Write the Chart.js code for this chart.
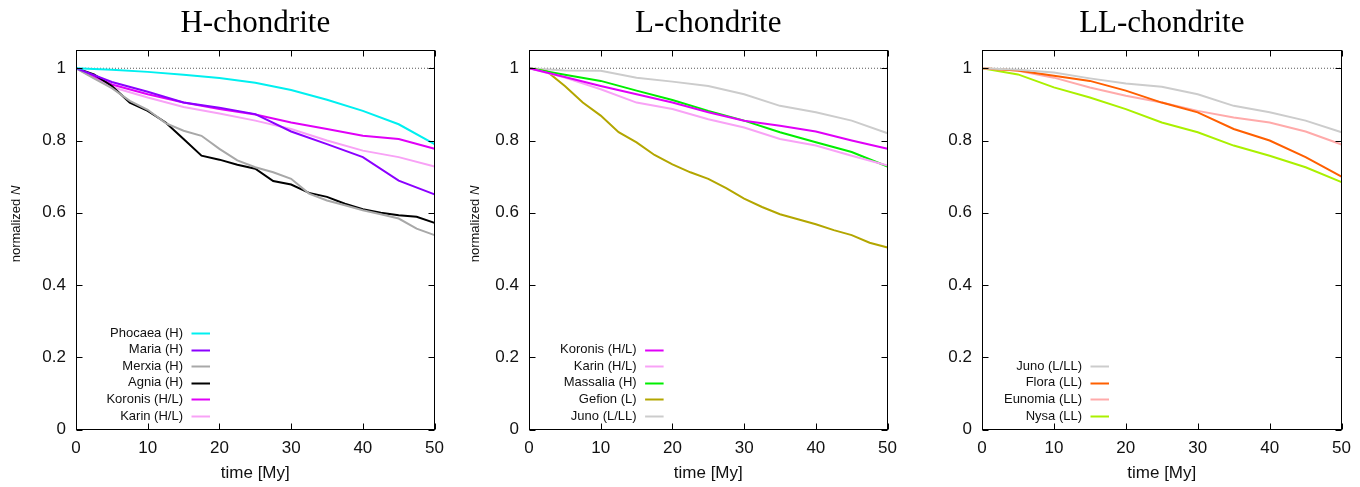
<!DOCTYPE html>
<html>
<head>
<meta charset="utf-8">
<script src="https://cdn.jsdelivr.net/npm/chart.js@4"></script>
<style>
  body { margin: 0; background: #fff; }
  #wrap { position: relative; width: 1360px; height: 487px; }
  canvas { position: absolute; top: 0; }
</style>
</head>
<body>
<div id="wrap">
  <canvas id="chH" width="453" height="487" style="left:0px"></canvas>
  <canvas id="chL" width="453" height="487" style="left:453px"></canvas>
  <canvas id="chLL" width="454" height="487" style="left:906px"></canvas>
</div>
<script>
const SANS = '"Liberation Sans", Arial, sans-serif';

// axes
const xTicks = [0, 10, 20, 30, 40, 50];
const xTickLabels = ['0', '10', '20', '30', '40', '50'];
const yTicks = [0, 0.2, 0.4, 0.6, 0.8, 1];
const yTickLabels = ['0', '0.2', '0.4', '0.6', '0.8', '1'];
const refT = [0, 50];
const refV = [1, 1];

// time grids [My]
const t5 = [0, 5, 10, 15, 20, 25, 30, 35, 40, 45, 50];
const t25 = [0, 2.5, 5, 7.5, 10, 12.5, 15, 17.5, 20, 22.5, 25, 27.5, 30, 32.5, 35, 37.5, 40, 42.5, 45, 47.5, 50];

// H-chondrite panel
const phocaeaH = [1, 0.996, 0.990, 0.982, 0.973, 0.960, 0.940, 0.913, 0.882, 0.845, 0.790];
const mariaH   = [1, 0.962, 0.935, 0.905, 0.891, 0.873, 0.825, 0.790, 0.754, 0.689, 0.651];
const merxiaH  = [1, 0.972, 0.945, 0.910, 0.885, 0.848, 0.827, 0.813, 0.777, 0.745, 0.726, 0.712, 0.694, 0.653, 0.634, 0.621, 0.607, 0.596, 0.584, 0.556, 0.538];
const agniaH   = [1, 0.983, 0.951, 0.905, 0.882, 0.850, 0.804, 0.758, 0.747, 0.733, 0.722, 0.688, 0.678, 0.655, 0.644, 0.625, 0.610, 0.600, 0.593, 0.589, 0.572];
const koronisH = [1, 0.955, 0.928, 0.905, 0.887, 0.872, 0.850, 0.832, 0.813, 0.804, 0.777];
const karinH   = [1, 0.948, 0.919, 0.893, 0.875, 0.855, 0.832, 0.800, 0.772, 0.754, 0.728];

// L-chondrite panel
const koronisL  = [1, 0.976, 0.951, 0.928, 0.905, 0.878, 0.855, 0.841, 0.825, 0.800, 0.777];
const karinL    = [1, 0.974, 0.942, 0.905, 0.887, 0.859, 0.836, 0.804, 0.786, 0.758, 0.731];
const massaliaL = [1, 0.982, 0.965, 0.938, 0.912, 0.882, 0.855, 0.823, 0.795, 0.768, 0.728];
const gefionL   = [1, 0.991, 0.951, 0.905, 0.869, 0.823, 0.795, 0.760, 0.734, 0.712, 0.694, 0.668, 0.639, 0.616, 0.596, 0.582, 0.568, 0.552, 0.538, 0.517, 0.504];
const junoL     = [1, 0.994, 0.993, 0.974, 0.963, 0.951, 0.928, 0.896, 0.878, 0.855, 0.820];

// LL-chondrite panel
const junoLL    = [1, 0.996, 0.988, 0.972, 0.958, 0.949, 0.928, 0.896, 0.878, 0.855, 0.823];
const floraLL   = [1, 0.994, 0.979, 0.965, 0.938, 0.905, 0.878, 0.832, 0.800, 0.754, 0.700];
const eunomiaLL = [1, 0.993, 0.974, 0.947, 0.924, 0.905, 0.882, 0.864, 0.850, 0.825, 0.789];
const nysaLL    = [1, 0.983, 0.947, 0.919, 0.887, 0.850, 0.823, 0.786, 0.758, 0.726, 0.685];

function pts(t, v) {
    return t.map((ti, i) => ({ x: ti, y: v[i] }));
}

function series(label, t, v, color) {
    return { label: label, data: pts(t, v), borderColor: color, backgroundColor: color,
             borderWidth: 2, pointRadius: 0, tension: 0, fill: false };
}

function refLine() {
    return { label: '', isRef: true, data: pts(refT, refV), borderColor: '#555',
             borderWidth: 1, borderDash: [1, 2], pointRadius: 0, fill: false };
}

// frame, inward ticks on all sides, y title with italic N, gnuplot-like key
const gnuplotLook = {
    id: 'gnuplotLook',
    afterDraw(chart, args, opts) {
        const ctx = chart.ctx;
        const a = chart.chartArea;
        const xs = chart.scales.x, ys = chart.scales.y;
        ctx.save();
        ctx.strokeStyle = '#000';
        ctx.lineWidth = 1;
        const L = Math.round(a.left) + 0.5, R = Math.round(a.right) - 0.5;
        const T = Math.round(a.top) + 0.5, B = Math.round(a.bottom) - 0.5;
        ctx.strokeRect(L, T, R - L, B - T);
        ctx.beginPath();
        xTicks.forEach(v => {
            const px = Math.round(xs.getPixelForValue(v)) + 0.5;
            ctx.moveTo(px, B); ctx.lineTo(px, B - 6);
            ctx.moveTo(px, T); ctx.lineTo(px, T + 6);
        });
        yTicks.forEach(v => {
            const py = Math.round(ys.getPixelForValue(v)) + 0.5;
            ctx.moveTo(L, py); ctx.lineTo(L + 6, py);
            ctx.moveTo(R, py); ctx.lineTo(R - 6, py);
        });
        ctx.stroke();

        ctx.fillStyle = '#111';
        if (opts.yTitleX != null) {
            ctx.save();
            ctx.translate(opts.yTitleX, opts.yTitleY);
            ctx.rotate(-Math.PI / 2);
            ctx.textBaseline = 'middle';
            ctx.textAlign = 'left';
            const fN = '13px ' + SANS, fI = 'italic 13px ' + SANS;
            ctx.font = fN;
            const w1 = ctx.measureText('normalized ').width;
            ctx.font = fI;
            const w2 = ctx.measureText('N').width;
            let x0 = -(w1 + w2) / 2;
            ctx.font = fN;
            ctx.fillText('normalized ', x0, 0);
            ctx.font = fI;
            ctx.fillText('N', x0 + w1, 0);
            ctx.restore();
        }

        const items = chart.data.datasets.filter(d => !d.isRef);
        ctx.font = '13px ' + SANS;
        ctx.textAlign = 'right';
        ctx.textBaseline = 'middle';
        const n = items.length;
        items.forEach((d, i) => {
            const y = a.bottom - 13.5 - (n - 1 - i) * 16.6;
            const tx = a.left + opts.keyTextRight;
            ctx.fillText(d.label, tx, y);
            ctx.strokeStyle = d.borderColor;
            ctx.lineWidth = 2;
            ctx.beginPath();
            ctx.moveTo(tx + 8.5, Math.round(y) + 0.5);
            ctx.lineTo(tx + 27, Math.round(y) + 0.5);
            ctx.stroke();
        });
        ctx.restore();
    }
};

function makeChart(id, title, datasets, look) {
    let ctx = document.getElementById(id).getContext('2d');
    return new Chart(ctx, {
        type: 'line',
        data: { datasets: datasets.concat([refLine()]) },
        options: {
            responsive: false,
            animation: false,
            devicePixelRatio: 1,
            layout: { padding: { left: 0, right: 13.5, top: 0, bottom: 0 } },
            scales: {
                x: {
                    type: 'linear', min: 0, max: 50,
                    afterBuildTicks: s => { s.ticks = xTicks.map(v => ({ value: v })); },
                    afterFit: s => { s.height = 57.5; },
                    grid: { display: false, drawTicks: false },
                    border: { display: false },
                    ticks: { font: { size: 17, family: SANS }, color: '#111', padding: 9, maxRotation: 0,
                             callback: (v, i) => xTickLabels[i] },
                    title: { display: true, text: 'time [My]', color: '#111',
                             font: { size: 17, family: SANS }, padding: { top: 0, bottom: 3 } }
                },
                y: {
                    type: 'linear', min: 0, max: 1.05,
                    afterBuildTicks: s => { s.ticks = yTicks.map(v => ({ value: v })); },
                    afterFit: s => { s.width = 76; },
                    grid: { display: false, drawTicks: false },
                    border: { display: false },
                    ticks: { font: { size: 17, family: SANS }, color: '#111', padding: 10,
                             callback: (v, i) => yTickLabels[i] }
                }
            },
            plugins: {
                legend: { display: false },
                tooltip: { enabled: false },
                title: {
                    display: true, text: title, fullSize: false, color: '#000',
                    font: { family: '"Liberation Serif", "Times New Roman", serif', size: 31, weight: 'normal' },
                    padding: { top: 5, bottom: 8 }
                },
                gnuplotLook: look
            }
        },
        plugins: [gnuplotLook]
    });
}

makeChart('chH', 'H-chondrite', [
    series('Phocaea (H)', t5, phocaeaH, '#00f0f0'),
    series('Maria (H)', t5, mariaH, '#8b00ff'),
    series('Merxia (H)', t25, merxiaH, '#a8a8a8'),
    series('Agnia (H)', t25, agniaH, '#000000'),
    series('Koronis (H/L)', t5, koronisH, '#e000f8'),
    series('Karin (H/L)', t5, karinH, '#f8a2f6')
], { yTitleX: 16, yTitleY: 224, keyTextRight: 107 });

makeChart('chL', 'L-chondrite', [
    series('Koronis (H/L)', t5, koronisL, '#e000f8'),
    series('Karin (H/L)', t5, karinL, '#f8a2f6'),
    series('Massalia (H)', t5, massaliaL, '#00ee00'),
    series('Gefion (L)', t25, gefionL, '#b3a600'),
    series('Juno (L/LL)', t5, junoL, '#cccccc')
], { yTitleX: 22.5, yTitleY: 224, keyTextRight: 107.6 });

makeChart('chLL', 'LL-chondrite', [
    series('Juno (L/LL)', t5, junoLL, '#cccccc'),
    series('Flora (LL)', t5, floraLL, '#ff5f00'),
    series('Eunomia (LL)', t5, eunomiaLL, '#ffaaaa'),
    series('Nysa (LL)', t5, nysaLL, '#aaf000')
], { yTitleX: null, keyTextRight: 100 });
</script>
</body>
</html>
